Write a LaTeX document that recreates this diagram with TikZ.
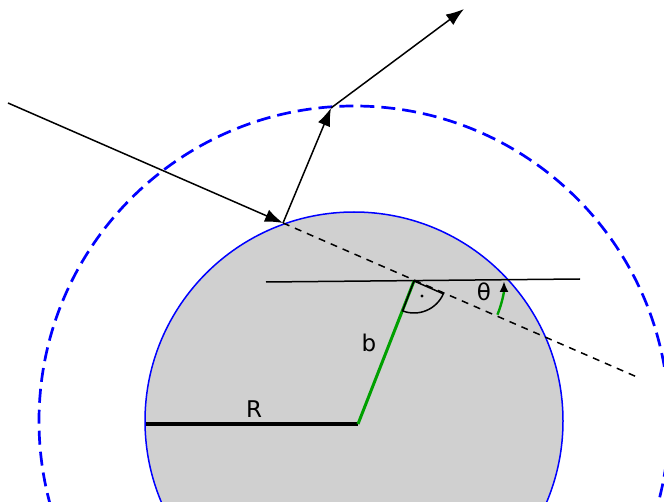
\documentclass[tikz,border=0pt]{standalone}
\usepackage{fontspec}
\setmainfont{DejaVu Sans}
\usetikzlibrary{arrows.meta}
\definecolor{ballgray}{RGB}{208,208,208}
\definecolor{bgreen}{RGB}{0,160,0}
\tikzset{
  ray/.style={line width=1.5pt,-{Latex[length=18pt,width=13pt]}},
  thinline/.style={line width=1.5pt},
  extline/.style={line width=1.5pt,dash pattern=on 7pt off 6pt},
  outer/.style={blue,line width=2.7pt,dash pattern=on 14pt off 7pt},
  inner/.style={draw=blue,fill=ballgray,line width=1.5pt},
  greenline/.style={bgreen,line width=3pt},
  lbl/.style={font=\fontsize{23}{27}\selectfont,inner sep=0pt}
}
\begin{document}
\begin{tikzpicture}[x=1pt,y=-1pt]
\useasboundingbox (0,0) rectangle (664,502);
\coordinate (C) at (354,421);
\coordinate (S) at (8,103);
\coordinate (H) at (283,223);
\coordinate (M) at (331,108);
\coordinate (T) at (464,9);
\coordinate (E) at (637,377);
\coordinate (F) at (414,281);
\coordinate (B0) at (358,424);
\coordinate (RL) at (146,424);
\coordinate (L1) at (266,282);
\coordinate (L2) at (580,279);
% circles
\draw[outer] (C) circle[radius=315];
\path[inner] (C) circle[radius=209];
% rays
\draw[ray] (S) -- (H);
\draw[ray] (H) -- (M);
\draw[ray] (M) -- (T);
\draw[extline] (H) -- (E);
% horizontal line
\draw[thinline] (L1) -- (L2);
% R and b
\draw[line width=3.2pt] (RL) -- (B0);
\draw[greenline] (B0) -- (F);
% right angle sector
\draw[thinline] (F) -- ++(23.6:32) arc[start angle=23.6,end angle=111,radius=32] -- cycle;
\fill (422,296) circle[radius=1.6];
% theta arc
\draw[bgreen,line width=2.4pt,-{Latex[length=11pt,width=9pt,black]}] (F) ++(22:90) arc[start angle=22,end angle=0,radius=90];
% labels
\node[lbl] (lR) at (254,409) {R};
\node[lbl] (lb) at (369,343) {b};
\node[lbl] (lt) at (484,292) {θ};
\end{tikzpicture}
\end{document}
